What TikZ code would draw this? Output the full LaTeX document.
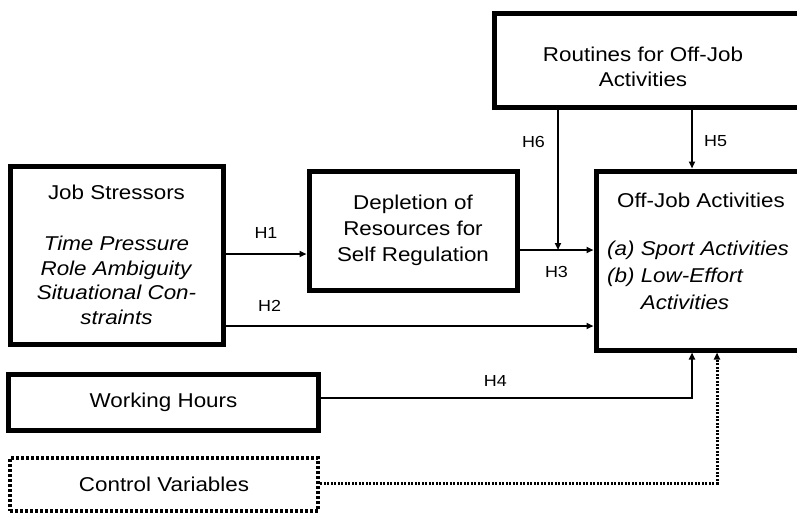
\documentclass[tikz,border=0pt]{standalone}
\usepackage{fontspec}
\setmainfont{Liberation Sans}[FakeStretch=1.12]
\usetikzlibrary{arrows.meta,positioning,calc}

\begin{document}
\begin{tikzpicture}[
    x=1pt, y=-1pt,
    box/.style={rectangle, draw=black, line width=5pt, align=center, font=\fontsize{20}{25}\selectfont},
    dotbox/.style={box, dash pattern=on 3pt off 2pt, line width=4.5pt},
    txt/.style={align=center, inner sep=0pt, font=\fontsize{20}{25}\selectfont},
    arr/.style={-{Triangle[length=7pt, width=6pt]}, line width=2.2pt},
    dotarr/.style={arr, dash pattern=on 2pt off 1.5pt, line width=3pt},
    lbl/.style={font=\fontsize{16}{18}\selectfont, inner sep=2pt}
]
    \useasboundingbox (0,0) rectangle (797,515);
    \clip (0,0) rectangle (797,515);

    % boxes
    \node [box, minimum width=213pt, minimum height=178pt, font=\fontsize{20}{24.5}\selectfont] (js) at (116.5,255)
        {Job Stressors\\[26.5pt]\textit{Time Pressure}\\\textit{Role Ambiguity}\\\textit{Situational Con-}\\\textit{straints}};
    \node [box, minimum width=208pt, minimum height=119pt, font=\fontsize{20}{26}\selectfont] (dep) at (413,230.5)
        {Depletion of\\Resources for\\Self Regulation};
    \node [box, minimum width=326pt, minimum height=94pt] (rout) at (657,60) {};
    \node [box, minimum width=224pt, minimum height=179pt] (off) at (708,260.5) {};
    \node [box, minimum width=310pt, minimum height=56pt] (wh) at (163.5,402.5) {Working Hours};
    \node [dotbox, minimum width=308pt, minimum height=53pt] (cv) at (164,484.5) {Control Variables};

    % texts of the cut boxes
    \node [txt] (routtxt) at (643,67) {Routines for Off-Job\\Activities};
    \node [txt] (offtxt) at (701,200) {Off-Job Activities};
    \node [txt, anchor=west, align=left, font=\fontsize{20}{27}\selectfont\itshape] (offlist) at (607,275)
        {(a) Sport Activities\\(b) Low-Effort\\\hphantom{(b) }Activities};

    % hypotheses
    \coordinate (h3m) at (558,250);
    \draw [arr] (js.east |- 0,254) -- node [lbl, above=12pt] (h1) {H1} (dep.west |- 0,254);
    \draw [arr] (js.east |- 0,326) -- node [lbl, pos=0.12, above=11pt] (h2) {H2} (off.west |- 0,326);
    \draw [arr] (dep.east |- h3m) -- node [lbl, below=13pt] (h3) {H3} (off.west |- h3m);
    \draw [arr] (rout.south -| h3m) -- node [lbl, pos=0.23, left=10pt] (h6) {H6} (h3m);
    \draw [arr] (rout.south -| 692,0) -- node [lbl, pos=0.54, right=9pt] (h5) {H5} (off.north -| 692,0);
    \draw [arr] (wh.east |- 0,398) -| node [lbl, pos=0.235, above=8pt] (h4) {H4} (off.south -| 692,0);
    \draw [dotarr] (cv.east |- 0,483) -| (off.south -| 717,0);
\end{tikzpicture}
\end{document}
